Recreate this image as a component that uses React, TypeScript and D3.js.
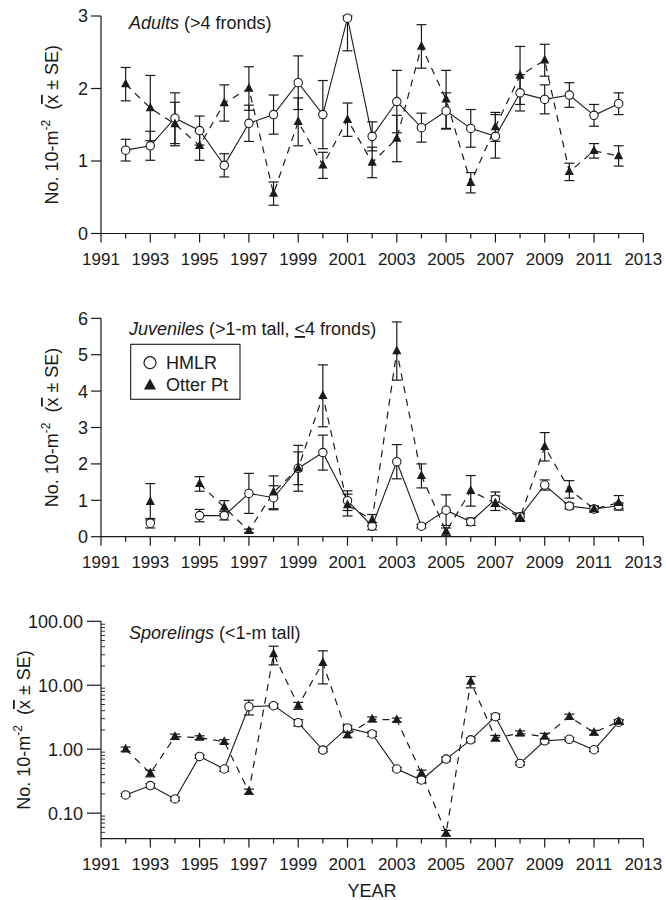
import React from 'react';
import * as d3 from 'd3';

const YEARS = [1992, 1993, 1994, 1995, 1996, 1997, 1998, 1999, 2000, 2001, 2002, 2003, 2004, 2005, 2006, 2007, 2008, 2009, 2010, 2011, 2012];
const X_TICKS = [1991, 1992, 1993, 1994, 1995, 1996, 1997, 1998, 1999, 2000, 2001, 2002, 2003, 2004, 2005, 2006, 2007, 2008, 2009, 2010, 2011, 2012, 2013];
const X_LABELS = [1991, 1993, 1995, 1997, 1999, 2001, 2003, 2005, 2007, 2009, 2011, 2013];

// Adults (>4 fronds)
const adultsHMLR = [1.15, 1.21, 1.59, 1.42, 0.94, 1.52, 1.64, 2.08, 1.64, 2.97, 1.34, 1.82, 1.46, 1.69, 1.45, 1.34, 1.94, 1.85, 1.91, 1.63, 1.79];
const adultsHMLRse = [0.15, 0.2, 0.35, 0.2, 0.16, 0.25, 0.27, 0.37, 0.47, 0.45, 0.2, 0.43, 0.2, 0.25, 0.26, 0.3, 0.25, 0.2, 0.17, 0.15, 0.15];
const adultsOtter = [2.06, 1.73, 1.51, 1.21, 1.8, 2.0, 0.55, 1.54, 0.94, 1.57, 0.98, 1.31, 2.58, 1.85, 0.7, 1.47, 2.18, 2.39, 0.85, 1.14, 1.07];
const adultsOtterSe = [0.23, 0.45, 0.3, 0.2, 0.25, 0.3, 0.16, 0.33, 0.18, 0.23, 0.21, 0.32, 0.3, 0.4, 0.14, 0.2, 0.4, 0.22, 0.12, 0.1, 0.14];

// Juveniles (>1-m tall, <=4 fronds)
const juvHMLR = [null, 0.37, null, 0.58, 0.58, 1.19, 1.07, 1.88, 2.31, 0.99, 0.29, 2.06, 0.29, 0.73, 0.41, 1.03, 0.55, 1.42, 0.84, 0.76, 0.85];
const juvHMLRse = [null, 0.13, null, 0.17, 0.12, 0.55, 0.33, 0.45, 0.48, 0.27, 0.1, 0.47, 0.05, 0.42, 0.1, 0.2, 0.1, 0.14, 0.08, 0.08, 0.08];
const juvOtter = [null, 0.96, null, 1.45, 0.81, 0.16, 1.22, 1.88, 3.87, 0.87, 0.46, 5.1, 1.67, 0.14, 1.26, 0.92, 0.52, 2.47, 1.3, 0.76, 0.93];
const juvOtterSe = [null, 0.5, null, 0.2, 0.18, 0.05, 0.45, 0.63, 0.85, 0.3, 0.15, 0.8, 0.33, 0.1, 0.42, 0.2, 0.1, 0.39, 0.24, 0.08, 0.2];

// Sporelings (<1-m tall)
const sporHMLR = [0.193, 0.27, 0.167, 0.77, 0.49, 4.63, 4.8, 2.6, 0.97, 2.15, 1.73, 0.49, 0.33, 0.7, 1.4, 3.23, 0.6, 1.35, 1.43, 0.98, 2.64];
const sporHMLRse = [0.01, 0.02, 0.01, 0.05, 0.04, 1.2, 0.3, 0.3, 0.06, 0.2, 0.15, 0.03, 0.03, 0.05, 0.1, 0.3, 0.04, 0.1, 0.1, 0.06, 0.2];
const sporOtter = [1.0, 0.42, 1.57, 1.52, 1.31, 0.218, 30.8, 4.8, 22.5, 1.67, 2.94, 2.87, 0.42, 0.0487, 11.4, 1.49, 1.78, 1.57, 3.23, 1.82, 2.7];
const sporOtterSe = [0.08, 0.05, 0.15, 0.1, 0.1, 0.02, 10, 0.6, 12, 0.15, 0.25, 0.2, 0.05, 0.005, 2.3, 0.15, 0.15, 0.2, 0.3, 0.15, 0.2];

const LIN3_TICKS = [0, 1, 2, 3];
const LIN6_TICKS = [0, 1, 2, 3, 4, 5, 6];
const LOG_TICKS = [0.1, 1, 10, 100];
const LOG_LABELS = ['0.10', '1.00', '10.00', '100.00'];

const FONT = 'Liberation Sans, Arial, Helvetica, sans-serif';
const INK = '#1a1a1a';

const X0 = 101;
const X1 = 643.3;
const x = d3.scaleLinear().domain([1991, 2013]).range([X0, X1]);

type Scale = (v: number) => number;

type PanelDef = {
  y: any;
  domain: [number, number];
  ticks: number[];
  labels: string[];
  log: boolean;
  titleItalic: string;
  titleRest: React.ReactNode;
  titleY: number;
  hmlr: (number | null)[];
  hmlrSe: (number | null)[];
  otter: (number | null)[];
  otterSe: (number | null)[];
  legend?: boolean;
  labelEnd: number;
  tickLen: number;
  yLabelX: number;
};

const triPath = 'M0,-5.5L4.6,3.2L-4.6,3.2Z';

function ErrorBars({ vals, se, y, domain }: { vals: (number | null)[]; se: (number | null)[]; y: Scale; domain: [number, number] }) {
  return (
    <g stroke={INK} strokeWidth={1.2} fill="none">
      {vals.map((v, i) => {
        if (v == null || se[i] == null) return null;
        const s = se[i] as number;
        const hi = Math.min(domain[1], v + s);
        const lo = Math.max(domain[0], v - s);
        const cx = x(YEARS[i]);
        const yh = y(hi);
        const yl = y(lo);
        return (
          <g key={i}>
            <line x1={cx} x2={cx} y1={yh} y2={yl} />
            <line x1={cx - 5} x2={cx + 5} y1={yh} y2={yh} />
            <line x1={cx - 5} x2={cx + 5} y1={yl} y2={yl} />
          </g>
        );
      })}
    </g>
  );
}

function Panel({ def }: { def: PanelDef }) {
  const y = def.y as Scale;
  const yTop = y(def.domain[1]);
  const yBot = y(def.domain[0]);
  const mid = (yTop + yBot) / 2;
  const line = d3
    .line<number | null>()
    .defined((d) => d != null)
    .x((_, i) => x(YEARS[i]))
    .y((d) => y(d as number));

  const minor: number[] = [];
  if (def.log) {
    [0.01, 0.1, 1, 10].forEach((dec) => {
      [2, 3, 4, 5, 6, 7, 8, 9].forEach((m) => {
        const v = dec * m;
        if (v >= def.domain[0] && v <= def.domain[1]) minor.push(v);
      });
    });
  }

  return (
    <g>
      {/* axes */}
      <g stroke={INK} strokeWidth={1.2}>
        <line x1={X0} x2={X0} y1={yTop} y2={yBot} />
        <line x1={X0} x2={X1} y1={yBot} y2={yBot} />
        {def.ticks.map((t) => (
          <line key={'yt' + t} x1={X0 - def.tickLen} x2={X0} y1={y(t)} y2={y(t)} />
        ))}
        {minor.map((t) => (
          <line key={'ym' + t} x1={X0} x2={X0 + 4} y1={y(t)} y2={y(t)} strokeWidth={0.9} />
        ))}
        {X_TICKS.map((t) => {
          const major = X_LABELS.indexOf(t) >= 0;
          return <line key={'xt' + t} x1={x(t)} x2={x(t)} y1={yBot} y2={yBot + (major ? 9 : 5)} />;
        })}
      </g>
      <g fontFamily={FONT} fontSize={18} fill={INK}>
        {def.ticks.map((t, i) => (
          <text key={'yl' + t} x={def.labelEnd} y={y(t)} dy="0.36em" textAnchor="end">
            {def.labels[i]}
          </text>
        ))}
      </g>
      <g fontFamily={FONT} fontSize={17} fill={INK}>
        {X_LABELS.map((t) => (
          <text key={'xl' + t} x={x(t)} y={yBot + 31} textAnchor="middle">
            {t}
          </text>
        ))}
      </g>
      {/* y label */}
      <text
        transform={`translate(${def.yLabelX},${mid}) rotate(-90)`}
        textAnchor="middle"
        fontFamily={FONT}
        fontSize={18}
        fill={INK}
      >
        No. 10-m
        <tspan dy={-8} fontSize={12}>-2</tspan>
        <tspan dy={8}>{'\u00a0\u00a0('}</tspan>
        <tspan style={{ textDecoration: 'overline' }}>x</tspan>
        <tspan>{'\u00a0\u00b1\u00a0SE)'}</tspan>
      </text>
      {/* title */}
      <text x={129} y={def.titleY} fontFamily={FONT} fontSize={18} fill={INK}>
        <tspan fontStyle="italic">{def.titleItalic}</tspan>
        {def.titleRest}
      </text>
      {/* lines */}
      <path d={line(def.hmlr) || ''} fill="none" stroke={INK} strokeWidth={1.1} />
      <path d={line(def.otter) || ''} fill="none" stroke={INK} strokeWidth={1.2} strokeDasharray="7,6" />
      <ErrorBars vals={def.hmlr} se={def.hmlrSe} y={y} domain={def.domain} />
      <ErrorBars vals={def.otter} se={def.otterSe} y={y} domain={def.domain} />
      {def.hmlr.map((v, i) =>
        v == null ? null : (
          <circle key={'c' + i} cx={x(YEARS[i])} cy={y(v)} r={4.2} fill="#fff" stroke={INK} strokeWidth={1.1} />
        )
      )}
      {def.otter.map((v, i) =>
        v == null ? null : (
          <path key={'t' + i} d={triPath} transform={`translate(${x(YEARS[i])},${y(v)})`} fill={INK} />
        )
      )}
      {def.legend && (
        <g fontFamily={FONT} fontSize={18} fill={INK}>
          <rect x={130.7} y={344.3} width={109.3} height={55} fill="#fff" stroke={INK} strokeWidth={1.1} />
          <circle cx={150} cy={362.7} r={6} fill="#fff" stroke={INK} strokeWidth={1.2} />
          <text x={166} y={369.3}>HMLR</text>
          <path d="M0,-6.5L6,4.5L-6,4.5Z" transform="translate(150,385)" fill={INK} />
          <text x={166} y={390.5}>Otter Pt</text>
        </g>
      )}
    </g>
  );
}

export default function App() {
  const y1 = d3.scaleLinear().domain([0, 3]).range([233.5, 16]);
  const y2 = d3.scaleLinear().domain([0, 6]).range([536.7, 318.3]);
  const y3 = d3.scaleLog().domain([0.04, 100]).range([838.6, 621.3]);

  const panels: PanelDef[] = [
    {
      y: y1,
      domain: [0, 3],
      ticks: LIN3_TICKS,
      labels: LIN3_TICKS.map(String),
      log: false,
      titleItalic: 'Adults',
      titleRest: ' (>4 fronds)',
      titleY: 28.5,
      hmlr: adultsHMLR,
      hmlrSe: adultsHMLRse,
      otter: adultsOtter,
      otterSe: adultsOtterSe,
      labelEnd: 88,
      tickLen: 10,
      yLabelX: 58,
    },
    {
      y: y2,
      domain: [0, 6],
      ticks: LIN6_TICKS,
      labels: LIN6_TICKS.map(String),
      log: false,
      titleItalic: 'Juveniles',
      titleRest: (
        <>
          {' (>1-m tall, '}
          <tspan style={{ textDecoration: 'underline' }}>{'<'}</tspan>
          {'4 fronds)'}
        </>
      ),
      titleY: 335,
      hmlr: juvHMLR,
      hmlrSe: juvHMLRse,
      otter: juvOtter,
      otterSe: juvOtterSe,
      legend: true,
      labelEnd: 88,
      tickLen: 10,
      yLabelX: 58,
    },
    {
      y: y3,
      domain: [0.04, 100],
      ticks: LOG_TICKS,
      labels: LOG_LABELS,
      log: true,
      titleItalic: 'Sporelings',
      titleRest: ' (<1-m tall)',
      titleY: 639.3,
      hmlr: sporHMLR,
      hmlrSe: sporHMLRse,
      otter: sporOtter,
      otterSe: sporOtterSe,
      labelEnd: 83,
      tickLen: 14,
      yLabelX: 30,
    },
  ];

  return (
    <svg
      width={666}
      height={900}
      style={{ position: 'absolute', left: 0, top: 0, background: '#fff' }}
      xmlns="http://www.w3.org/2000/svg"
    >
      <rect width={666} height={900} fill="#fff" />
      {panels.map((p, i) => (
        <Panel key={i} def={p} />
      ))}
      <text x={372} y={897} textAnchor="middle" fontFamily={FONT} fontSize={18} fill={INK}>
        YEAR
      </text>
    </svg>
  );
}
